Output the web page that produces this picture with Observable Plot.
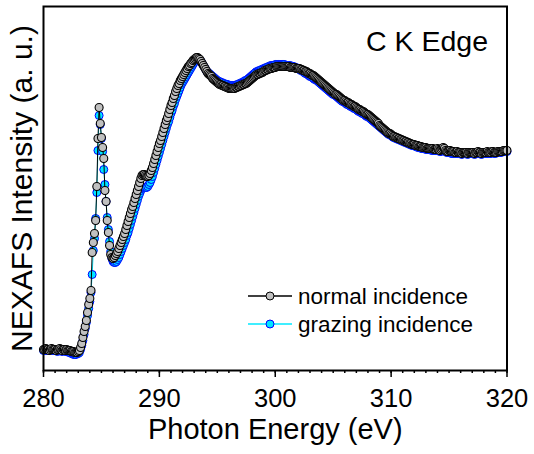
<!DOCTYPE html>
<html><head><meta charset="utf-8">
<script src="https://cdn.jsdelivr.net/npm/d3@7"></script>
<script src="https://cdn.jsdelivr.net/npm/@observablehq/plot@0.6"></script>
<style>body{margin:0;background:#fff} #chart{width:534px;height:454px}</style>
</head><body><div id="chart"></div>
<script>
// Energy grid of the scan (eV)
const energyStart = 280.0;
const energyStep = 0.1;

// Normal incidence intensity (a.u.), one value per 0.1 eV from 280.0 to 320.0
const normalIncidence = [
21,21,22,21,21,20,21,22,21,21,
21,20,21,21,22,21,20,21,21,20,
21,20,20,20,19,19,19,18,18,18,
19,20,23,27,33,39,44,50,58,66,
72,80,118,128,137,150,184,232,263,247,
233,223,212,180,169,150,138,125,116,113,
112,113,115,117,119,122,125,128,131,134,
137,141,145,149,153,157,161,164,168,172,
176,180,184,188,192,195,196,196,195,194,
194,195,197,200,203,207,211,215,219,223,
227,230,234,238,242,246,250,253,257,261,
265,268,272,275,279,282,285,287,290,292,
294,296,298,300,302,304,305,307,308,310,
311,312,313,313,312,311,309,307,305,303,
301,299,297,296,295,294,292,291,290,289,
288,287,286,286,285,285,284,284,283,283,
282,282,282,282,282,282,283,283,284,284,
285,285,286,286,287,287,288,289,290,291,
292,293,294,295,296,296,297,297,298,298,
299,300,300,301,301,302,302,302,303,303,
303,304,304,304,304,304,304,304,304,304,
304,304,304,303,303,303,303,303,302,302,
302,302,301,301,300,300,299,299,298,297,
297,296,295,295,294,293,292,291,290,289,
288,287,286,285,284,283,282,281,280,279,
278,277,276,276,275,274,273,272,271,270,
270,269,268,268,267,266,266,265,264,264,
263,262,261,261,260,259,259,258,257,256,
256,255,254,253,252,251,250,249,248,247,
245,244,243,242,241,240,239,238,237,237,
236,235,234,234,233,233,232,232,231,231,
230,230,229,229,228,228,227,227,226,226,
226,225,225,225,224,224,224,223,223,223,
223,222,222,222,222,222,222,221,221,221,
222,221,220,221,222,223,222,220,219,219,
220,220,219,219,219,218,218,219,218,218,
218,217,218,218,218,218,217,218,218,218,
218,218,217,218,218,219,218,218,217,218,
218,218,218,219,218,218,218,219,219,218,
218,218,219,219,219,219,219,220,220,220,
220
];

// Grazing incidence intensity (a.u.), same energy grid
const grazingIncidence = [
20,21,20,20,21,20,20,21,20,20,
20,20,19,20,20,20,19,20,20,19,
19,19,18,18,17,17,16,16,16,17,
17,18,21,25,30,36,42,48,55,62,
69,78,96,120,132,152,178,220,255,246,
232,219,201,186,169,153,141,129,119,112,
109,108,108,109,111,113,116,119,122,125,
128,131,135,138,142,146,150,154,158,162,
166,170,174,177,180,182,183,183,183,183,
184,186,188,191,194,198,202,206,210,214,
218,222,226,230,234,238,242,246,249,253,
257,260,264,267,271,274,277,280,283,286,
288,290,292,294,296,298,300,302,304,306,
308,310,311,311,311,310,309,307,305,303,
301,299,298,297,296,295,294,293,292,291,
290,289,289,288,288,287,287,286,286,286,
285,285,285,285,285,285,285,286,286,287,
287,288,288,289,290,290,291,292,293,294,
295,296,297,298,299,299,300,300,301,301,
302,302,303,303,304,304,305,305,305,305,
306,306,306,306,306,306,306,306,306,305,
305,305,305,305,304,304,304,303,303,302,
302,301,300,300,299,298,297,297,296,295,
294,294,293,292,291,291,290,289,288,287,
286,285,284,283,282,281,280,279,278,277,
276,276,275,274,273,272,271,270,269,269,
268,267,266,266,265,264,264,263,262,262,
261,260,259,259,258,257,257,256,255,254,
254,253,252,251,250,249,248,247,246,245,
244,243,242,241,240,239,238,237,236,236,
235,234,233,233,232,232,231,231,230,230,
229,229,228,228,227,227,226,226,225,225,
225,224,224,223,223,223,222,222,222,222,
221,221,221,221,221,220,220,220,220,220,
220,220,219,219,220,221,220,219,218,218,
218,218,217,217,217,217,217,217,217,217,
217,216,217,217,217,217,216,217,217,217,
217,217,216,217,217,217,217,217,216,217,
217,217,217,217,217,217,217,218,218,217,
217,218,218,218,218,218,219,219,219,219,
219
];

const seriesNames = ["normal incidence", "grazing incidence"];
const majorTicks = [280, 290, 300, 310, 320];
const minorTicks = [280,281,282,283,284,285,286,287,288,289,290,291,292,293,294,295,296,297,298,299,300,301,302,303,304,305,306,307,308,309,310,311,312,313,314,315,316,317,318,319,320];
const edgeLabel = "C K Edge";
const xLabel = "Photon Energy (eV)";
const yLabel = "NEXAFS Intensity (a. u.)";

const toRows = (vals, s) => vals.map((v, i) => ({energy: +(energyStart + i * energyStep).toFixed(1), intensity: v, series: s}));
const normalRows = toRows(normalIncidence, seriesNames[0]);
const grazingRows = toRows(grazingIncidence, seriesNames[1]);

const FONT = "'Liberation Sans', Arial, Helvetica, sans-serif";
const styles = {
  normal: {line: "#000000", fill: "#c0c0c0", stroke: "#000000"},
  grazing: {line: "#00e8ff", fill: "#00e5ff", stroke: "#0000ff"}
};

const plot = Plot.plot({
  width: 534,
  height: 454,
  marginLeft: 43,
  marginRight: 27.5,
  marginTop: 6,
  marginBottom: 84,
  style: {fontFamily: FONT, background: "white", color: "black"},
  x: {domain: [280, 320]},
  y: {domain: [0, 364], axis: null},
  marks: [
    Plot.axisX({ticks: minorTicks, tickSize: 3, tickFormat: () => "", strokeWidth: 1.5, label: null}),
    Plot.axisX({ticks: majorTicks, tickSize: 7, tickPadding: 11, fontSize: 25.5, strokeWidth: 1.5, label: null, tickFormat: d => String(d)}),
    Plot.line(grazingRows, {x: "energy", y: "intensity", stroke: styles.grazing.line, strokeWidth: 1}),
    Plot.dot(grazingRows, {x: "energy", y: "intensity", r: 4, fill: styles.grazing.fill, stroke: styles.grazing.stroke, strokeWidth: 1}),
    Plot.line(normalRows, {x: "energy", y: "intensity", stroke: styles.normal.line, strokeWidth: 1}),
    Plot.dot(normalRows, {x: "energy", y: "intensity", r: 4, fill: styles.normal.fill, stroke: styles.normal.stroke, strokeWidth: 1.1}),
    Plot.frame({stroke: "black", strokeWidth: 2}),
    Plot.text([edgeLabel], {frameAnchor: "top-right", textAnchor: "end", dx: -19, dy: 24, fontSize: 28.5, fill: "black"}),
    Plot.text([yLabel], {frameAnchor: "left", textAnchor: "middle", rotate: -90, dx: -21, fontSize: 30, fill: "black"}),
    Plot.text([xLabel], {frameAnchor: "bottom", textAnchor: "middle", dy: 68, fontSize: 29, fill: "black"})
  ]
});

// Legend (inside the frame, lower right)
const svg = d3.select(plot);
const legend = svg.append("g").attr("font-family", FONT).attr("font-size", 22.5).attr("text-anchor", "start");
const legendItems = [
  {name: seriesNames[0], ...styles.normal},
  {name: seriesNames[1], ...styles.grazing}
];
legendItems.forEach((d, i) => {
  const y = 296 + i * 28;
  legend.append("line").attr("x1", 248).attr("x2", 292).attr("y1", y).attr("y2", y).attr("stroke", d.line).attr("stroke-width", 1.5);
  legend.append("circle").attr("cx", 270).attr("cy", y).attr("r", 4).attr("fill", d.fill).attr("stroke", d.stroke).attr("stroke-width", 1);
  legend.append("text").attr("x", 298).attr("y", y).attr("dy", "0.35em").attr("text-anchor", "start").attr("fill", "black").text(d.name);
});

document.getElementById("chart").appendChild(plot);
</script>
</body></html>
